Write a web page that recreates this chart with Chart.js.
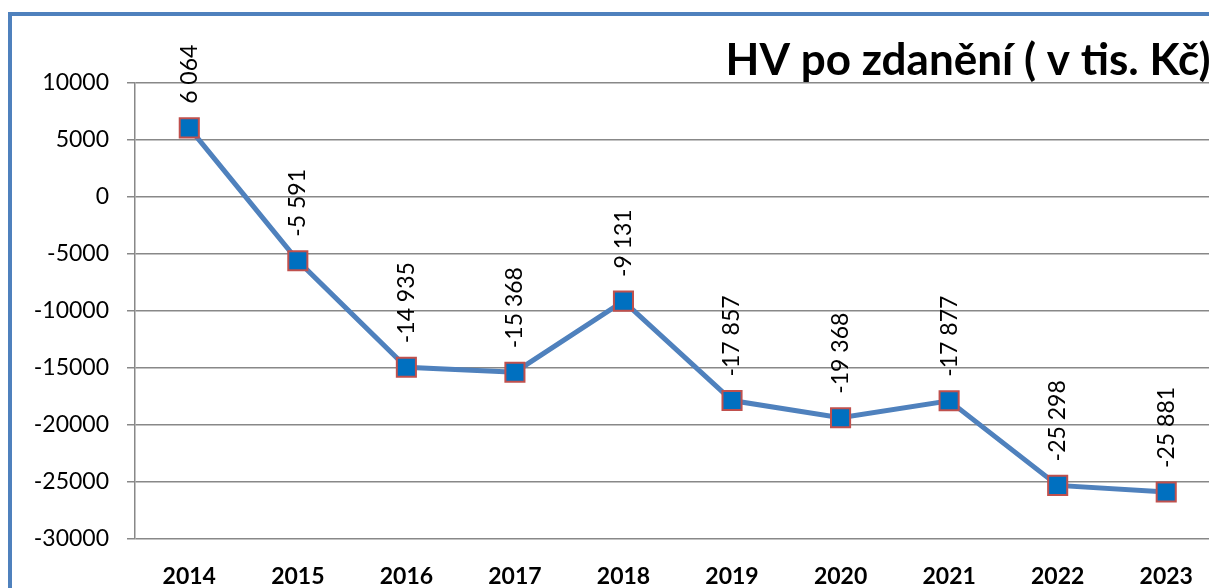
<!DOCTYPE html>
<html>
<head>
<meta charset="utf-8">
<script src="https://cdn.jsdelivr.net/npm/chart.js@4/dist/chart.umd.min.js"></script>
<style>
  html, body { margin: 0; padding: 0; background: #fff; overflow: hidden; }
  #frame {
    position: absolute; left: 8px; top: 12px;
    width: 1260px; height: 600px;
    border-left: 4px solid #4F81BD; border-top: 4px solid #4F81BD;
  }
  canvas { display: block; }
</style>
</head>
<body>
<div id="frame"><canvas id="hv-chart" width="1224" height="575"></canvas></div>
<script>
// --- Datos del gráfico ---
const years = ['2014', '2015', '2016', '2017', '2018', '2019', '2020', '2021', '2022', '2023'];
const hvValues = [6064, -5591, -14935, -15368, -9131, -17857, -19368, -17877, -25298, -25881];
const yMin = -30000;
const yMax = 10000;
const yStep = 5000;
const chartTitle = 'HV po zdanění ( v tis. Kč)';

const FONT = 'Lato, "Liberation Sans", sans-serif';

// Formato "6 064" con espacio como separador de miles
function fmt(v) {
    const s = Math.abs(v).toString().replace(/\B(?=(\d{3})+(?!\d))/g, ' ');
    return (v < 0 ? '-' : '') + s;
}

// Título en la esquina superior derecha, sobre la línea de 10000
const cornerTitle = {
    id: 'cornerTitle',
    afterDraw(chart) {
        const ctx = chart.ctx;
        ctx.save();
        ctx.font = 'bold 44px ' + FONT;
        ctx.fillStyle = '#000';
        ctx.textAlign = 'right';
        ctx.textBaseline = 'alphabetic';
        ctx.fillText(chartTitle, chart.chartArea.right - 10, chart.chartArea.top - 8);
        ctx.restore();
    }
};

// Etiquetas de valor giradas sobre cada punto
const valueLabels = {
    id: 'valueLabels',
    afterDatasetsDraw(chart) {
        const ctx = chart.ctx;
        const meta = chart.getDatasetMeta(0);
        ctx.save();
        ctx.font = '23px ' + FONT;
        ctx.fillStyle = '#000';
        ctx.textAlign = 'left';
        ctx.textBaseline = 'middle';
        meta.data.forEach((pt, i) => {
            ctx.save();
            ctx.translate(pt.x, pt.y - 24);
            ctx.rotate(-Math.PI / 2);
            ctx.fillText(fmt(hvValues[i]), 0, 0);
            ctx.restore();
        });
        ctx.restore();
    }
};

const ctx = document.getElementById('hv-chart').getContext('2d');
new Chart(ctx, {
    type: 'line',
    data: {
        labels: years,
        datasets: [{
            data: hvValues,
            borderColor: '#4F81BD',
            borderWidth: 5,
            pointStyle: 'rect',
            pointRadius: 13.5,
            pointBackgroundColor: '#0070C0',
            pointBorderColor: '#C0504D',
            pointBorderWidth: 2,
            tension: 0
        }]
    },
    options: {
        responsive: false,
        animation: false,
        layout: { padding: { top: 67, left: 0, right: 0, bottom: 0 } },
        plugins: {
            legend: { display: false },
            tooltip: { enabled: false },
            title: { display: false }
        },
        scales: {
            x: {
                offset: true,
                grid: { display: false, drawTicks: false },
                border: { display: false },
                ticks: {
                    color: '#000',
                    padding: 24,
                    font: { family: FONT, size: 23, weight: 'bold' }
                },
                afterFit(scale) { scale.height = 52; }
            },
            y: {
                min: yMin,
                max: yMax,
                grid: { color: '#888', lineWidth: 1.5, tickLength: 8 },
                border: { display: true, color: '#888', width: 1.5 },
                ticks: {
                    stepSize: yStep,
                    color: '#000',
                    padding: 18,
                    font: { family: FONT, size: 23 },
                    callback: v => String(v)
                },
                afterFit(scale) { scale.width = 123; }
            }
        }
    },
    plugins: [valueLabels, cornerTitle]
});
</script>
</body>
</html>
